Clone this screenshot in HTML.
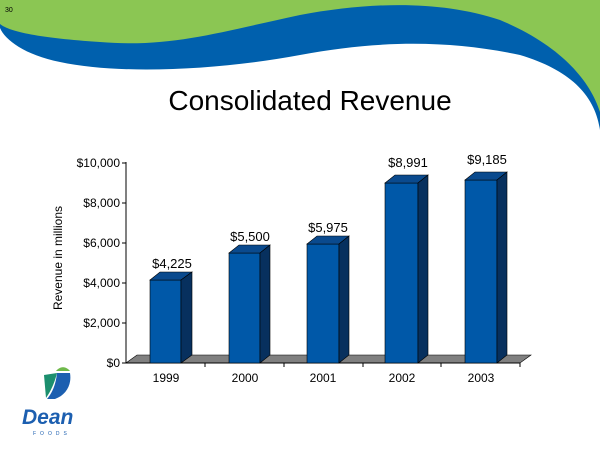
<!DOCTYPE html>
<html><head><meta charset="utf-8"><style>
body{margin:0;background:#fff}
svg{display:block}
text{font-family:"Liberation Sans",Arial,sans-serif}
</style></head><body>
<svg width="600" height="450" viewBox="0 0 600 450">
<path d="M0,0 H600 V130 C595,95 570,70 520,55 C450,40 380,40 300,55 C220,70 120,75 60,62 C25,55 5,40 0,28 Z" fill="#0060ad"/>
<path d="M0,0 H600 V112 C590,80 560,45 500,20 C440,0 370,2 300,15 C220,32 170,48 100,42 C40,38 10,32 0,24 Z" fill="#8bc653"/>
<text x="5" y="12" font-size="7" fill="#000">30</text>
<text x="310" y="110" font-size="28" text-anchor="middle" fill="#000">Consolidated Revenue</text>

<polygon points="126,363 520,363 531,355 137,355" fill="#808080" stroke="#000" stroke-width="0.6"/>
<line x1="126" y1="162" x2="126" y2="363" stroke="#000"/>
<line x1="126" y1="363" x2="520" y2="363" stroke="#000"/>
<g stroke="#000">
<line x1="122" y1="163" x2="126" y2="163"/><line x1="122" y1="203" x2="126" y2="203"/><line x1="122" y1="243" x2="126" y2="243"/><line x1="122" y1="283" x2="126" y2="283"/><line x1="122" y1="323" x2="126" y2="323"/><line x1="122" y1="363" x2="126" y2="363"/>
<line x1="205" y1="363" x2="205" y2="367"/><line x1="284" y1="363" x2="284" y2="367"/><line x1="363" y1="363" x2="363" y2="367"/><line x1="441" y1="363" x2="441" y2="367"/><line x1="520" y1="363" x2="520" y2="367"/>
</g>
<g font-size="12" text-anchor="end" fill="#000">
<text x="120" y="167">$10,000</text><text x="120" y="207">$8,000</text><text x="120" y="247">$6,000</text><text x="120" y="287">$4,000</text><text x="120" y="327">$2,000</text><text x="120" y="367">$0</text>
</g>
<text transform="translate(62,258) rotate(-90)" font-size="12" text-anchor="middle">Revenue in millions</text>
<g font-size="12" text-anchor="middle">
<text x="166" y="382">1999</text><text x="245" y="382">2000</text><text x="323" y="382">2001</text><text x="402" y="382">2002</text><text x="481" y="382">2003</text>
</g>
<g stroke="#000" stroke-width="0.6">
<g><rect x="150" y="280" width="31" height="83" fill="#0058a8"/><polygon points="150,280 160,272 192,272 181,280" fill="#0a4a8e"/><polygon points="181,280 192,272 192,355 181,363" fill="#07305e"/></g>
<g><rect x="229" y="253" width="31" height="110" fill="#0058a8"/><polygon points="229,253 239,245 270,245 260,253" fill="#0a4a8e"/><polygon points="260,253 270,245 270,355 260,363" fill="#07305e"/></g>
<g><rect x="307" y="244" width="32" height="119" fill="#0058a8"/><polygon points="307,244 317,236 349,236 339,244" fill="#0a4a8e"/><polygon points="339,244 349,236 349,355 339,363" fill="#07305e"/></g>
<g><rect x="385" y="183" width="33" height="180" fill="#0058a8"/><polygon points="385,183 395,175 428,175 418,183" fill="#0a4a8e"/><polygon points="418,183 428,175 428,355 418,363" fill="#07305e"/></g>
<g><rect x="465" y="180" width="32" height="183" fill="#0058a8"/><polygon points="465,180 475,172 507,172 497,180" fill="#0a4a8e"/><polygon points="497,180 507,172 507,355 497,363" fill="#07305e"/></g>
</g>
<g font-size="13" text-anchor="middle" fill="#000">
<text x="172" y="268">$4,225</text><text x="250" y="241">$5,500</text><text x="328" y="232">$5,975</text><text x="408" y="167">$8,991</text><text x="487" y="164">$9,185</text>
</g>
<path d="M44,375 L57,373 C54,385 50,392 46,398 Z" fill="#1c8f6e"/>
<path d="M57,373 L70,373 C72,385 66,395 55,399 L47,399 C53,392 56,383 57,373 Z" fill="#1c5fb0"/>
<path d="M56,371 C60,366 66,366 70,371 Z" fill="#6fb94a"/>
<text x="22" y="424" font-size="21" font-weight="bold" font-style="italic" fill="#1c5fb0">Dean</text>
<text x="33" y="435" font-size="5" fill="#1c5fb0" letter-spacing="4">FOODS</text>
</svg>
</body></html>
